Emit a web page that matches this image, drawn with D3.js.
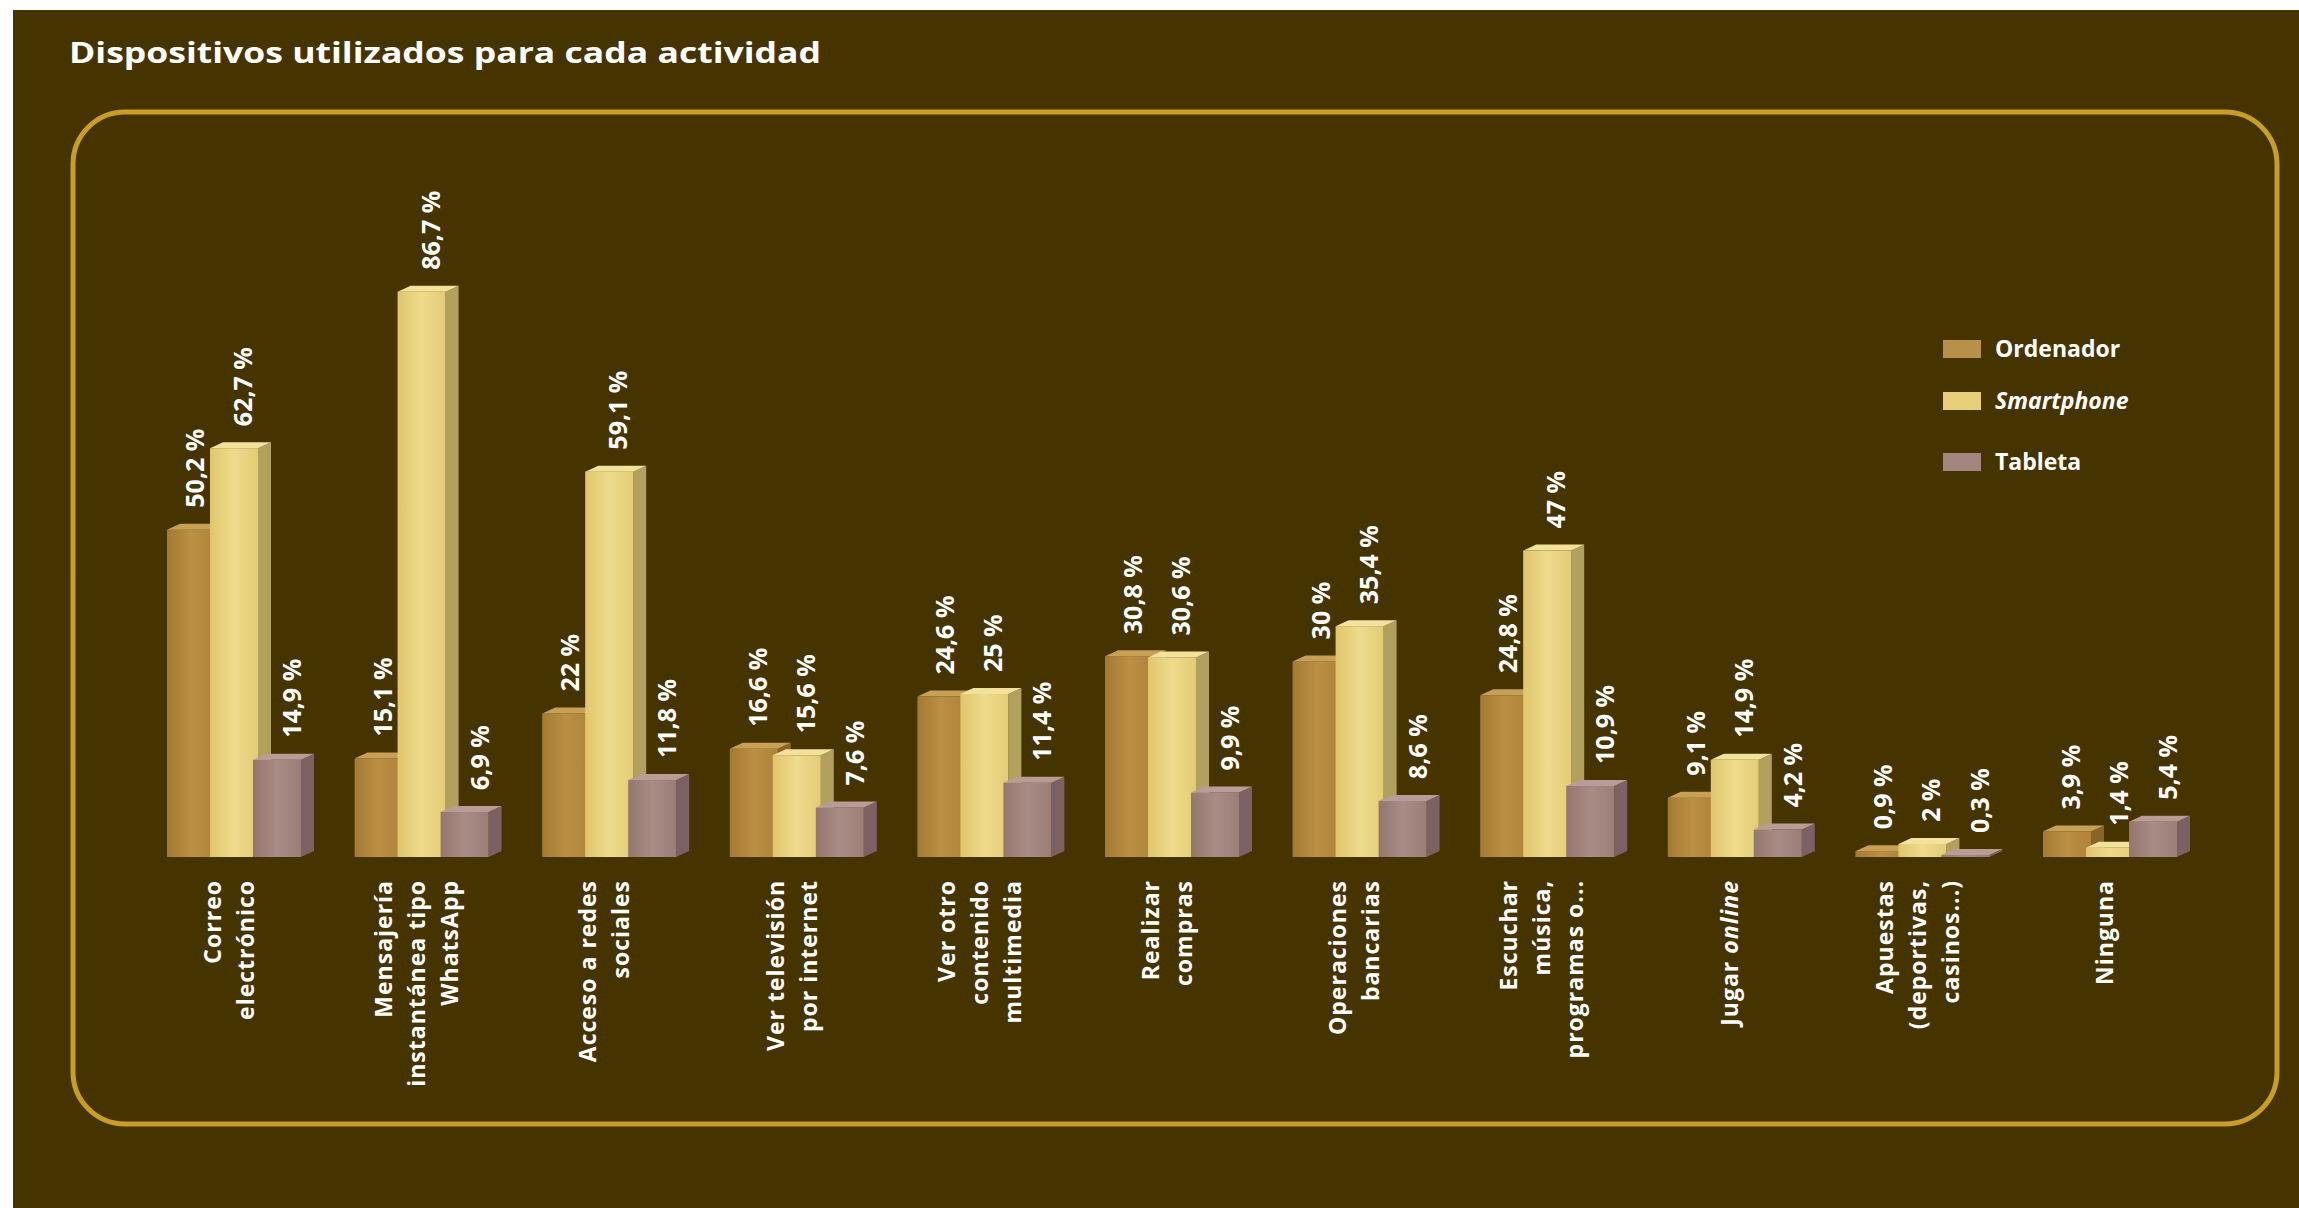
<!DOCTYPE html>
<html lang="es">
<head>
<meta charset="utf-8">
<title>Dispositivos utilizados para cada actividad</title>
<script src="https://cdn.jsdelivr.net/npm/d3@7"></script>
<style>
  html, body { margin: 0; padding: 0; background: #ffffff; }
  svg { display: block; }
  text { font-family: "Open Sans", "Noto Sans", sans-serif; font-weight: 700; fill: #ffffff; }
</style>
</head>
<body>
<svg id="chart" width="2299" height="1208"></svg>
<script>
// Activities (each entry holds the lines of its label)
const categories = [
  ["Correo", "electrónico"],
  ["Mensajería", "instantánea tipo", "WhatsApp"],
  ["Acceso a redes", "sociales"],
  ["Ver televisión", "por internet"],
  ["Ver otro", "contenido", "multimedia"],
  ["Realizar", "compras"],
  ["Operaciones", "bancarias"],
  ["Escuchar", "música,", "programas o..."],
  ["Jugar |online"],
  ["Apuestas", "(deportivas,", "casinos...)"],
  ["Ninguna"]
];

const series = ["Ordenador", "Smartphone", "Tableta"];

// Percentages per device
const ordenador  = [50.2, 15.1, 22, 16.6, 24.6, 30.8, 30, 24.8, 9.1, 0.9, 3.9];
const smartphone = [62.7, 86.7, 59.1, 15.6, 25, 30.6, 35.4, 47, 14.9, 2, 1.4];
const tableta    = [14.9, 6.9, 11.8, 7.6, 11.4, 9.9, 8.6, 10.9, 4.2, 0.3, 5.4];

const values = [ordenador, smartphone, tableta];

// Colours: front gradient stops, side and top faces, legend swatch
const palette = {
  Ordenador:  { front: ["#a47a32", "#bb8f44", "#ae843a"], side: "#87652a", top: "#c7a056", swatch: "#b8904a" },
  Smartphone: { front: ["#e0c66d", "#eedb8c", "#e4cc76"], side: "#b2a05f", top: "#f3e29a", swatch: "#e6cf78" },
  Tableta:    { front: ["#95766e", "#a88c85", "#9c7e77"], side: "#7b6064", top: "#b89c95", swatch: "#a48680" }
};

const W = 2299, H = 1208;
const svg = d3.select("#chart");

// page background and frame
svg.append("rect").attr("x", 13).attr("y", 10).attr("width", W - 13).attr("height", H - 10).attr("fill", "#453300");
svg.append("rect")
  .attr("x", 73).attr("y", 112).attr("width", 2204).attr("height", 1012)
  .attr("rx", 52).attr("ry", 52)
  .attr("fill", "none").attr("stroke", "#c99e24").attr("stroke-width", 5);

svg.append("text")
  .attr("x", 69).attr("y", 63)
  .attr("font-size", 29)
  .attr("textLength", 752).attr("lengthAdjust", "spacingAndGlyphs")
  .text("Dispositivos utilizados para cada actividad");

// scales
const catKeys = categories.map((c, i) => i);
const x0 = d3.scaleBand().domain(catKeys).range([167, 167 + 187.6 * categories.length]).padding(0);
const x1 = d3.scaleBand().domain(series).range([0, 129]).padding(0);
const y = d3.scaleLinear().domain([0, 100]).range([857, 205]);

const barW = 48, depth = 13, rise = 6;

const locale = d3.formatLocale({ decimal: ",", thousands: ".", grouping: [3], currency: ["", " €"] });
const fmt = locale.format(".1~f");

// gradients for the bar fronts
const defs = svg.append("defs");
series.forEach(s => {
  const g = defs.append("linearGradient").attr("id", "grad-" + s).attr("x1", "0%").attr("x2", "100%");
  palette[s].front.forEach((c, i) => g.append("stop").attr("offset", (i * 50) + "%").attr("stop-color", c));
});

const labelShift = { Ordenador: 28, Smartphone: 76, Tableta: 125 };

const groups = svg.append("g").selectAll("g.group")
  .data(catKeys).join("g").attr("class", "group")
  .attr("transform", i => `translate(${x0(i)},0)`);

series.forEach((s, si) => {
  const bars = groups.append("g").attr("class", "bar " + s);
  const base = y(0);
  bars.each(function (ci) {
    const v = values[si][ci];
    const g = d3.select(this);
    const x = x1(s), top = y(v);
    // side face
    g.append("path")
      .attr("d", `M${x + barW},${top} L${x + barW + depth},${top - rise} L${x + barW + depth},${base - rise} L${x + barW},${base} Z`)
      .attr("fill", palette[s].side);
    // front face
    g.append("rect")
      .attr("x", x).attr("y", top).attr("width", barW).attr("height", base - top)
      .attr("fill", `url(#grad-${s})`);
    // top face
    g.append("path")
      .attr("d", `M${x},${top} L${x + depth},${top - rise} L${x + barW + depth},${top - rise} L${x + barW},${top} Z`)
      .attr("fill", palette[s].top);
  });
});

// value labels, written upwards above each bar
series.forEach((s, si) => {
  groups.append("text")
    .attr("transform", ci => `translate(${labelShift[s]},${y(values[si][ci]) - 22}) rotate(-90)`)
    .attr("text-anchor", "start")
    .attr("dy", "0.36em")
    .attr("font-size", 25)
    .text(ci => fmt(values[si][ci]) + " %");
});

// category labels, top-aligned and rotated
const catLabels = groups.append("g")
  .attr("transform", "translate(62,880) rotate(-90)");
catLabels.each(function (ci) {
  const lines = categories[ci];
  const n = lines.length, lh = 33;
  lines.forEach((line, li) => {
    const t = d3.select(this).append("text")
      .attr("x", 0)
      .attr("y", (li - (n - 1) / 2) * lh)
      .attr("dy", "0.36em")
      .attr("text-anchor", "end")
      .attr("font-size", 23)
      .attr("letter-spacing", 1);
    const parts = line.split("|");
    t.append("tspan").text(parts[0]);
    if (parts[1]) t.append("tspan").attr("font-style", "italic").text(parts[1]);
  });
});

// legend
const legend = svg.append("g").attr("transform", "translate(1943,340)");
const legendRows = [0, 52, 113];
series.forEach((s, i) => {
  const g = legend.append("g").attr("transform", `translate(0,${legendRows[i]})`);
  g.append("rect").attr("width", 38).attr("height", 18).attr("fill", palette[s].swatch);
  g.append("text").attr("x", 52).attr("y", 9).attr("dy", "0.36em")
    .attr("font-size", 23)
    .attr("font-style", s === "Smartphone" ? "italic" : "normal")
    .text(s);
});
</script>
</body>
</html>
